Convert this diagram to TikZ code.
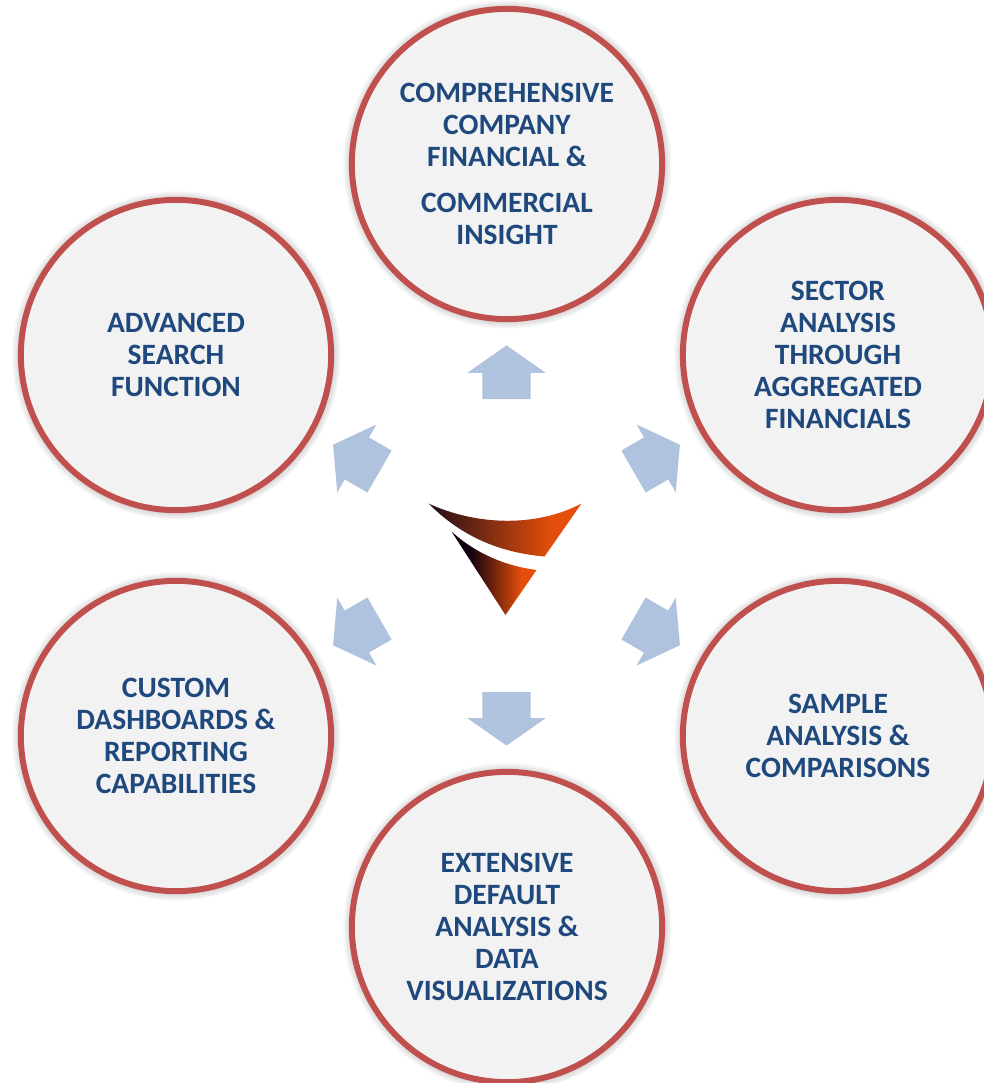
\documentclass[tikz,border=0pt]{standalone}
\usepackage{fontspec}
\setmainfont{Carlito}
\usetikzlibrary{shapes,shapes.arrows,shadows,fadings}
\definecolor{ringred}{HTML}{C0504D}
\definecolor{discgray}{HTML}{F2F2F2}
\definecolor{labelblue}{HTML}{1F497D}
\definecolor{arrowblue}{HTML}{B0C3DE}
\definecolor{logodark}{HTML}{2A1018}
\definecolor{logoblack}{HTML}{12000F}
\definecolor{logoorange}{HTML}{E34E0A}
\pgfdeclarehorizontalshading{logoupper}{100bp}{color(0bp)=(logodark); color(27bp)=(logodark); color(65bp)=(logoorange); color(100bp)=(logoorange)}
\pgfdeclarehorizontalshading{logolower}{100bp}{color(0bp)=(logoblack); color(36bp)=(logoblack); color(66bp)=(logoorange); color(100bp)=(logoorange)}
\tikzstyle{topic}=[circle,draw=ringred,fill=discgray,line width=3.4pt,minimum size=176.6pt,inner sep=0pt,align=center,text=labelblue,font=\fontsize{16.8}{18.25}\selectfont\bfseries,circular drop shadow={shadow xshift=0pt,shadow yshift=0pt,shadow scale=1.06,opacity=1}]
\tikzstyle{blockarrow}=[single arrow,anchor=tail,fill=arrowblue,minimum height=30.5pt,single arrow head extend=8.5pt,single arrow tip angle=110,inner xsep=0pt,inner ysep=13.6pt,outer sep=0pt]

\begin{document}
\begin{tikzpicture}[x=.02cm,y=-.02cm]
        \useasboundingbox (0,0) rectangle (984,1083);
        \fill[white] (0,0) rectangle (984,1083);

        \node[topic] (insight) at (507,164) {COMPREHENSIVE\\COMPANY\\FINANCIAL \&\\[7.5pt]COMMERCIAL\\INSIGHT};
        \node[topic] (sector) at (838,355) {SECTOR\\ANALYSIS\\THROUGH\\AGGREGATED\\FINANCIALS};
        \node[topic] (sample) at (838,736) {SAMPLE\\ANALYSIS \&\\COMPARISONS};
        \node[topic] (default) at (507,927) {EXTENSIVE\\DEFAULT\\ANALYSIS \&\\DATA\\VISUALIZATIONS};
        \node[topic] (custom) at (176,736) {CUSTOM\\DASHBOARDS \&\\REPORTING\\CAPABILITIES};
        \node[topic] (search) at (176,355) {ADVANCED\\SEARCH\\FUNCTION};

        \node[blockarrow,rotate=90] (toinsight) at (506.5,399) {};
        \node[blockarrow,rotate=30] (tosector) at (633.5,471.5) {};
        \node[blockarrow,rotate=-30] (tosample) at (633.5,618.5) {};
        \node[blockarrow,rotate=-90] (todefault) at (506.5,692) {};
        \node[blockarrow,rotate=210] (tocustom) at (379.5,618.5) {};
        \node[blockarrow,rotate=150] (tosearch) at (379.5,471.5) {};

        % logo
        \shade[shading=logoupper] (428.5,503.5) .. controls (475,525) and (535,528) .. (581.5,503.5) -- (544.5,556.5) .. controls (505,553) and (465,540) .. cycle;
        \shade[shading=logolower] (451.5,531.5) .. controls (475,553) and (505,566) .. (536.5,570) -- (505.5,615) -- cycle;
\end{tikzpicture}
\end{document}
